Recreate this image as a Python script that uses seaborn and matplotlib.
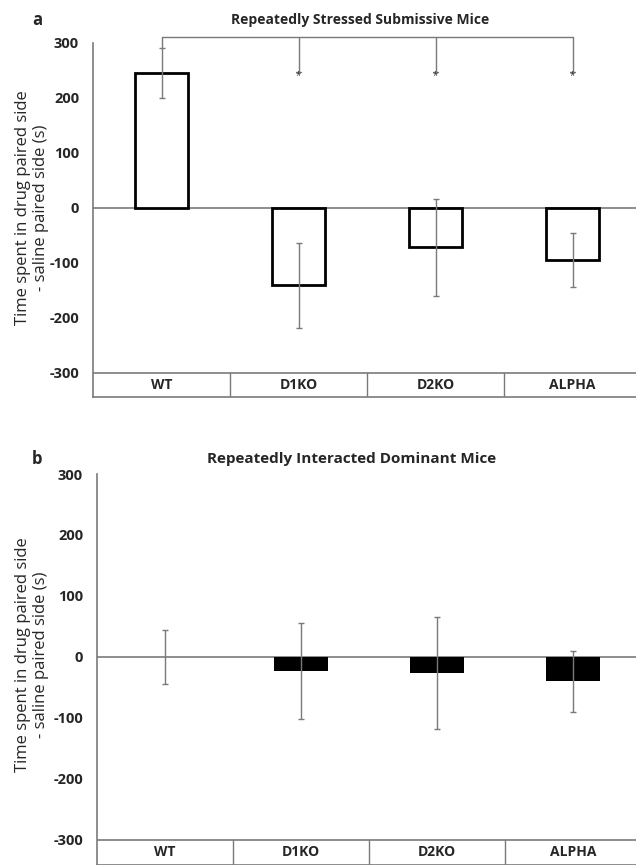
import matplotlib
matplotlib.use("Agg")
import matplotlib.pyplot as plt
import numpy as np
import pandas as pd
import seaborn as sns

# -----------------------------
# Data
# -----------------------------
groups = ["WT", "D1KO", "D2KO", "ALPHA"]

sub_mean = [245, -141, -72, -95]
sub_err = [45, 77, 89, 49]

dom_mean = [0, -23, -26, -40]
dom_err = [45, 79, 92, 50]

yticks = [300, 200, 100, 0, -100, -200, -300]
star_groups = ["D1KO", "D2KO", "ALPHA"]

sns.set_theme(style="white")
plt.rcParams["font.family"] = ["Open Sans", "DejaVu Sans"]

W, H = 636, 865
fig = plt.figure(figsize=(W / 100, H / 100), dpi=100)

GRAY = "#7a7a7a"


def px_axes(left, right, top, bottom):
    return fig.add_axes([left / W, 1 - bottom / H, (right - left) / W, (bottom - top) / H])


def draw_panel(ax, means, errs, ylow, filled):
    df = pd.DataFrame({"group": groups, "value": means})
    sns.barplot(
        data=df, x="group", y="value", order=groups, ax=ax, width=0.39,
        color="black" if filled else "white",
        edgecolor="black", linewidth=0 if filled else 2.0,
        errorbar=None, zorder=3,
    )
    ax.errorbar(np.arange(len(groups)), means, yerr=errs, fmt="none",
                ecolor=GRAY, elinewidth=1.0, capsize=2.5, capthick=1.0, zorder=4)
    ax.axhline(0, color=GRAY, lw=1.2, zorder=2)

    ax.set_ylim(ylow, 300)
    ax.set_xlim(-0.5, 3.5)
    ax.set_yticks(yticks)
    ax.set_yticklabels([str(t) for t in yticks], fontweight="bold", fontsize=10.5)
    ax.tick_params(axis="y", length=0, pad=10)
    ax.set_xticks([])
    ax.set_xlabel("")
    ax.set_ylabel("")

    for s in ["top", "right"]:
        ax.spines[s].set_visible(False)
    ax.spines["left"].set_color(GRAY)
    ax.spines["bottom"].set_color(GRAY)
    ax.spines["left"].set_linewidth(1.2)
    ax.spines["bottom"].set_linewidth(1.2)

    # category table under the axis
    ax.axhline(-300, color=GRAY, lw=1.2)
    for d in [0.5, 1.5, 2.5]:
        ax.plot([d, d], [ylow, -300], color=GRAY, lw=1.0)
    for i, g in enumerate(groups):
        ax.text(i, (ylow - 300) / 2, g, ha="center", va="center",
                fontweight="bold", fontsize=10)


# -----------------------------
# Panel a
# -----------------------------
ax_a = px_axes(93, 641, 43, 397)
draw_panel(ax_a, sub_mean, sub_err, -344, filled=False)

bracket_y = 311
x_wt = groups.index("WT")
ax_a.plot([x_wt, x_wt], [sub_mean[0] + sub_err[0], bracket_y], color=GRAY, lw=1.0, clip_on=False)
ax_a.plot([x_wt, groups.index(star_groups[-1])], [bracket_y, bracket_y], color=GRAY, lw=1.0, clip_on=False)
for g in star_groups:
    xi = groups.index(g)
    ax_a.plot([xi, xi], [bracket_y, 248], color=GRAY, lw=1.0, clip_on=False)
    ax_a.plot([xi - 0.02, xi + 0.02], [248, 248], color=GRAY, lw=1.0, clip_on=False)
    ax_a.text(xi, 241, "*", ha="center", va="center", fontsize=7, color="#333333")

fig.text(37 / W, 1 - 20 / H, "a", fontweight="bold", fontsize=12, ha="center", va="center")
fig.text(360 / W, 1 - 20 / H, "Repeatedly Stressed Submissive Mice",
         fontweight="bold", fontsize=10, ha="center", va="center")
fig.text(32 / W, 1 - 208 / H, "Time spent in drug paired side\n- saline paired side (s)",
         rotation=90, ha="center", va="center", multialignment="center", fontsize=12)

# -----------------------------
# Panel b
# -----------------------------
ax_b = px_axes(97, 641, 474, 865)
draw_panel(ax_b, dom_mean, dom_err, -341, filled=True)

fig.text(37 / W, 1 - 459 / H, "b", fontweight="bold", fontsize=12, ha="center", va="center")
fig.text(352 / W, 1 - 459 / H, "Repeatedly Interacted Dominant Mice",
         fontweight="bold", fontsize=11, ha="center", va="center")
fig.text(32 / W, 1 - 655 / H, "Time spent in drug paired side\n- saline paired side (s)",
         rotation=90, ha="center", va="center", multialignment="center", fontsize=12)

fig.savefig("out.png", dpi=100)
